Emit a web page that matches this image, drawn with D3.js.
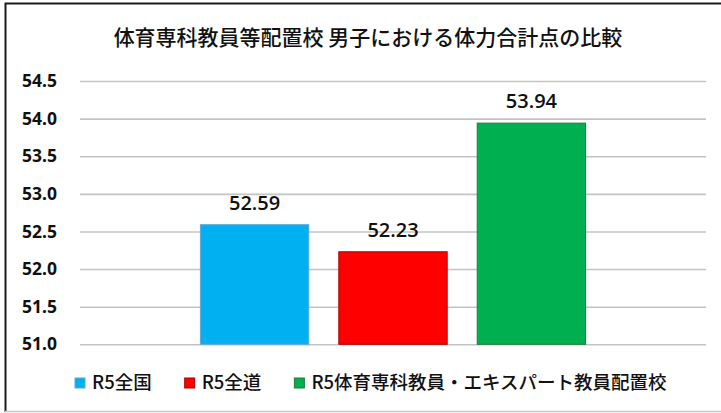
<!DOCTYPE html>
<html>
<head>
<meta charset="utf-8">
<script src="https://cdn.jsdelivr.net/npm/d3@7"></script>
<style>
  body { margin: 0; background: #fff; }
  svg { display: block; }
</style>
</head>
<body>
<div id="chart"></div>
<script>
// 体力合計点の比較 (男子)
var title = "体育専科教員等配置校 男子における体力合計点の比較";
var seriesNames = ["R5全国", "R5全道", "R5体育専科教員・エキスパート教員配置校"];
var seriesValues = [52.59, 52.23, 53.94];
var seriesColors = ["#00b0f0", "#ff0000", "#00b050"];
var seriesStrokes = ["#5fa9d6", "#b00000", "#1e7a3c"];
var yTicks = [51.0, 51.5, 52.0, 52.5, 53.0, 53.5, 54.0, 54.5];

var width = 721,
    height = 413;
var plot = { left: 80, right: 706, top: 81, bottom: 344.3 };

var svg = d3.select("#chart")
  .append("svg")
  .attr("width", width)
  .attr("height", height);

// frame
svg.append("path")
  .attr("d", "M5.5,412 L5.5,3.5 L730,3.5")
  .attr("fill", "none")
  .attr("stroke", "#1a1a1a")
  .attr("stroke-width", 2);
svg.append("line")
  .attr("x1", 5).attr("x2", width)
  .attr("y1", 411.5).attr("y2", 411.5)
  .attr("stroke", "#c8c8c8")
  .attr("stroke-width", 1.5);

// title
svg.append("text")
  .attr("x", 368)
  .attr("y", 45)
  .attr("text-anchor", "middle")
  .style("font-family", "'Noto Sans CJK JP', sans-serif")
  .style("font-size", "21px")
  .style("font-weight", 500)
  .attr("fill", "#111")
  .text(title);

var x = d3.scaleBand()
  .domain(seriesNames)
  .range([plot.left, plot.right])
  .paddingInner(0.217)
  .paddingOuter(0.87);

var y = d3.scaleLinear()
  .domain([d3.min(yTicks), d3.max(yTicks)])
  .range([plot.bottom, plot.top]);

// y axis + gridlines
var yAxis = svg.append("g")
  .attr("transform", "translate(" + plot.left + ",0)")
  .call(d3.axisLeft(y)
    .tickValues(yTicks)
    .tickFormat(d3.format(".1f"))
    .tickSize(-(plot.right - plot.left))
    .tickPadding(23));
yAxis.select(".domain").remove();
yAxis.selectAll(".tick line")
  .attr("stroke", "#c4c4c4")
  .attr("stroke-width", 1.6);
yAxis.selectAll(".tick text")
  .attr("fill", "#111")
  .style("font-family", "'Noto Sans', sans-serif")
  .style("font-weight", "bold")
  .style("font-size", "17.5px");

// bars
var data = seriesNames.map(function(name, i) {
  return { name: name, value: seriesValues[i], color: seriesColors[i], stroke: seriesStrokes[i] };
});

svg.selectAll("rect.bar")
  .data(data)
  .enter()
  .append("rect")
  .attr("class", "bar")
  .attr("x", function(d) { return x(d.name); })
  .attr("y", function(d) { return y(d.value); })
  .attr("width", x.bandwidth())
  .attr("height", function(d) { return y(d3.min(yTicks)) - y(d.value); })
  .attr("fill", function(d) { return d.color; })
  .attr("stroke", function(d) { return d.stroke; })
  .attr("stroke-width", 1);

// value labels
svg.selectAll("text.val")
  .data(data)
  .enter()
  .append("text")
  .attr("class", "val")
  .attr("x", function(d) { return x(d.name) + x.bandwidth() / 2; })
  .attr("y", function(d) { return y(d.value) - 15; })
  .attr("text-anchor", "middle")
  .attr("fill", "#111")
  .style("font-family", "'Open Sans', sans-serif")
  .style("font-weight", 600)
  .style("font-size", "20px")
  .text(function(d) { return d3.format(".2f")(d.value); });

// legend
var legend = svg.append("g");
var lx = 75;
data.forEach(function(d) {
  legend.append("rect")
    .attr("x", lx).attr("y", 378)
    .attr("width", 10).attr("height", 10)
    .attr("fill", d.color)
    .attr("stroke", d.stroke)
    .attr("stroke-width", 1);
  var t = legend.append("text")
    .attr("x", lx + 17)
    .attr("y", 389)
    .attr("fill", "#111")
    .style("font-family", "'Noto Sans CJK JP', sans-serif")
    .style("font-weight", 500)
    .style("font-size", "18.5px")
    .text(d.name);
  lx += 17 + t.node().getComputedTextLength() + 33;
});
</script>
</body>
</html>
